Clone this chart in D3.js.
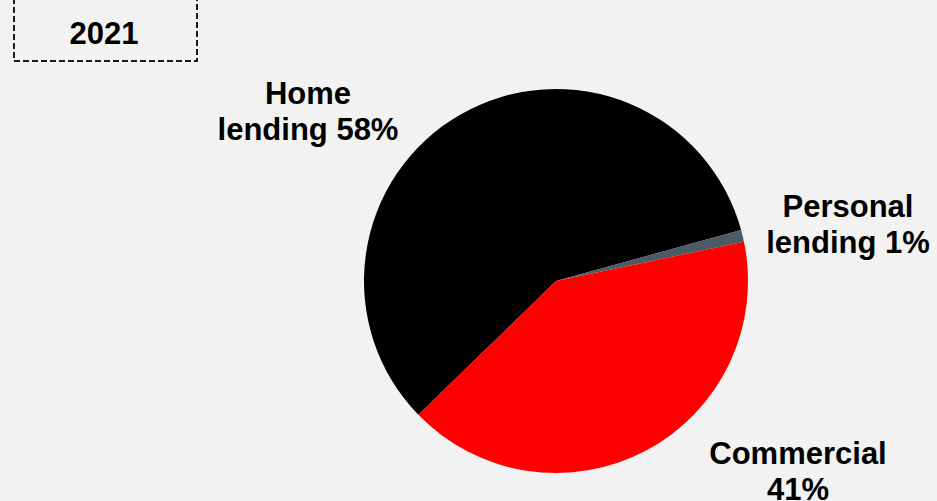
<!DOCTYPE html>
<html>
<head>
<meta charset="utf-8">
<script src="https://cdn.jsdelivr.net/npm/d3@7"></script>
<style>
  html, body { margin: 0; padding: 0; background: #f2f2f2; }
  svg { display: block; font-family: "Liberation Sans", Arial, Helvetica, sans-serif; }
</style>
</head>
<body>
<div id="chart"></div>
<script>
// Data
const categories = ["Home lending", "Personal lending", "Commercial"];
const shares = [58, 1, 41];
const colors = ["#000000", "#4b5b65", "#ff0000"];
const year = "2021";

const width = 937, height = 501;
const cx = 556, cy = 281, radius = 192;

const svg = d3.select("#chart")
  .append("svg")
    .attr("width", width)
    .attr("height", height);

svg.append("rect")
    .attr("width", width)
    .attr("height", height)
    .attr("fill", "#f2f2f2");

// Year box top left
svg.append("rect")
    .attr("x", 14)
    .attr("y", -2)
    .attr("width", 183)
    .attr("height", 63)
    .attr("fill", "none")
    .attr("stroke", "#1a1a1a")
    .attr("stroke-width", 2)
    .attr("stroke-dasharray", "6,3");

svg.append("text")
    .attr("x", 104)
    .attr("y", 44)
    .attr("text-anchor", "middle")
    .style("font-size", "31px")
    .style("font-weight", "bold")
    .text(year);

// Pie
const pie = d3.pie()
    .sort(null)
    .startAngle(-134.2 * Math.PI / 180)
    .endAngle((360 - 134.2) * Math.PI / 180);

const arc = d3.arc().innerRadius(0).outerRadius(radius);

const g = svg.append("g")
    .attr("transform", `translate(${cx},${cy})`);

g.selectAll("path")
  .data(pie(shares))
  .join("path")
    .attr("d", arc)
    .attr("fill", (d, i) => colors[i]);

// Labels (placed by hand around the pie)
const labelLines = [
  ["Home", "lending " + shares[0] + "%"],
  ["Personal", "lending " + shares[1] + "%"],
  [categories[2], shares[2] + "%"]
];
const labelPos = [[308, 104], [848, 217], [798, 464]];

labelLines.forEach((lines, i) => {
  const t = svg.append("text")
      .attr("text-anchor", "middle")
      .style("font-size", "31px")
      .style("font-weight", "bold");
  lines.forEach((s, j) => {
    t.append("tspan")
        .attr("x", labelPos[i][0])
        .attr("y", labelPos[i][1] + j * 36)
        .text(s);
  });
});
</script>
</body>
</html>
